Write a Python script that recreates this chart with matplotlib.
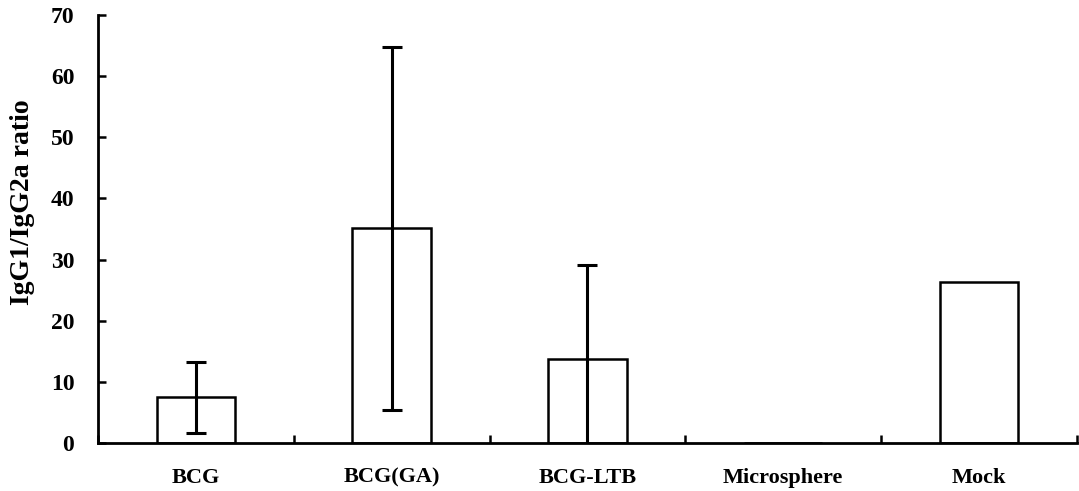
import numpy as np
import matplotlib
matplotlib.use("Agg")
import matplotlib.pyplot as plt

# === Daten ===
groups = ["BCG", "BCG(GA)", "BCG-LTB", "Microsphere", "Mock"]
ratio = [7.5, 35.1, 13.7, 0.0, 26.3]
err_low = [5.8, 29.7, 15.4, 0.0, 0.0]
err_high = [5.7, 29.7, 15.4, 0.0, 0.0]
y_ticks = [0, 10, 20, 30, 40, 50, 60, 70]

plt.rcParams["font.family"] = ["Liberation Serif", "DejaVu Serif"]
plt.rcParams["font.weight"] = "bold"

fig = plt.figure(figsize=(10.79, 4.91), dpi=100)
ax = fig.add_axes([0.0908, 0.0978, 0.9072, 0.8717])

x = np.arange(len(groups))
has_err = [i for i in range(len(groups)) if err_high[i] > 0]

ax.bar(x, ratio, width=0.4, color="white", edgecolor="black", linewidth=1.8)
ax.errorbar(x[has_err], np.array(ratio)[has_err],
            yerr=[np.array(err_low)[has_err], np.array(err_high)[has_err]],
            fmt="none", ecolor="black", elinewidth=2.2, capsize=7, capthick=2.2)

ax.set_xlim(-0.5, len(groups) - 0.5)
ax.set_ylim(0, 70)
ax.set_yticks(y_ticks)
ax.set_xticks(x)
ax.set_xticklabels(groups, fontsize=16, fontweight="bold")
ax.set_xticks(np.arange(len(groups) + 1) - 0.5, minor=True)
ax.tick_params(axis="x", which="major", length=0, pad=18)
ax.tick_params(axis="x", which="minor", direction="in", length=6, width=1.8)
ax.tick_params(axis="y", direction="in", length=6, width=1.8, labelsize=17, pad=17)
for lab in ax.get_yticklabels():
    lab.set_fontweight("bold")

ax.set_ylabel("IgG1/IgG2a ratio", fontsize=20, fontweight="bold")
ax.yaxis.set_label_coords(-0.064, 0.563)

for side in ["top", "right"]:
    ax.spines[side].set_visible(False)
for side in ["left", "bottom"]:
    ax.spines[side].set_linewidth(2.0)

fig.savefig("out.png", dpi=100)
